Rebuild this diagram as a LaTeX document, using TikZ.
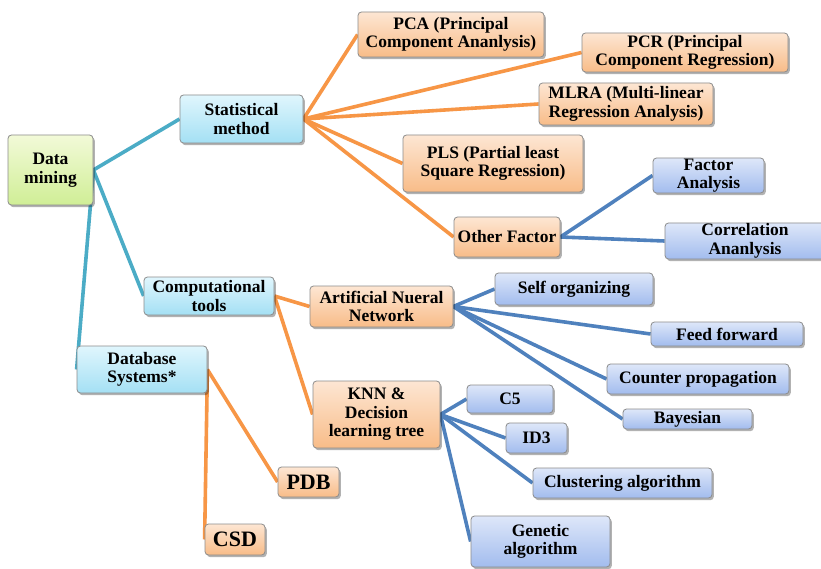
\documentclass[tikz,border=0pt]{standalone}
\usepackage{fontspec}
\setmainfont{Liberation Serif}
\usetikzlibrary{shadows,backgrounds}

% gradient fills of the boxes
\definecolor{orTop}{HTML}{FDE6D3}
\definecolor{orBot}{HTML}{F8BC88}
\definecolor{skyTop}{HTML}{E0F6FD}
\definecolor{skyBot}{HTML}{A4E0F4}
\definecolor{perTop}{HTML}{DEE7F9}
\definecolor{perBot}{HTML}{A2BCEE}
\definecolor{grTop}{HTML}{F2FAD8}
\definecolor{grBot}{HTML}{D0EE96}
\definecolor{frame}{HTML}{8C8C8C}
% connector colours
\definecolor{tealLn}{HTML}{4BACC6}
\definecolor{orLn}{HTML}{F79646}
\definecolor{blLn}{HTML}{4F81BD}

\tikzset{
  box/.style={draw=frame, line width=0.8pt, rounded corners=3.5pt, inner sep=0pt,
    align=center, font=\bfseries\fontsize{17.5}{18.5}\selectfont, text=black,
    drop shadow={shadow xshift=1.8pt, shadow yshift=-2.2pt, fill=black, opacity=0.3}},
  orbox/.style={box, top color=orTop, bottom color=orBot},
  skybox/.style={box, top color=skyTop, bottom color=skyBot},
  perbox/.style={box, top color=perTop, bottom color=perBot},
  grbox/.style={box, top color=grTop, bottom color=grBot},
  bigtext/.style={font=\bfseries\fontsize{22}{24}\selectfont},
  wh/.style 2 args={minimum width=#1pt, minimum height=#2pt},
  tealline/.style={draw=tealLn, line width=3.6pt},
  orline/.style={draw=orLn, line width=3.6pt},
  blline/.style={draw=blLn, line width=3.6pt},
}

\begin{document}
\begin{tikzpicture}[x=1pt, y=-1pt]
\begin{scope}[on background layer]
  \fill[white] (0,0) rectangle (821,569);
\end{scope}
\useasboundingbox (0,0) rectangle (821,569);

% root and first level
\node[grbox, wh={85}{70}]   (dm)   at (50.5,170)  {Data\\mining};
\node[skybox, wh={123}{48}] (stat) at (241.5,119) {Statistical\\method};
\node[skybox, wh={130}{38}] (comp) at (209,296)   {Computational\\tools};
\node[skybox, wh={130}{47}] (db)   at (142,369.5) {Database\\Systems*};

% statistical methods
\node[orbox, wh={186}{45}] (pca)   at (451,34.5)  {PCA (Principal\\Component Ananlysis)};
\node[orbox, wh={206}{39}] (pcr)   at (685,52.5)  {PCR (Principal\\Component Regression)};
\node[orbox, wh={174}{42}] (mlra)  at (626,104)   {MLRA (Multi-linear\\Regression Analysis)};
\node[orbox, wh={180}{57}] (pls)   at (493,163.5) {PLS (Partial least\\Square Regression)};
\node[orbox, wh={106}{40}] (other) at (507,237)   {Other Factor};
\node[perbox, wh={111}{35}] (fa)   at (708.5,175.5) {Factor\\Analysis};
\node[perbox, wh={160}{36}] (corr) at (745,241)   {Correlation\\Ananlysis};

% computational tools
\node[orbox, wh={143}{41}] (ann) at (381.5,306.5) {Artificial Nueral\\Network};
\node[orbox, wh={127}{67}] (knn) at (376.5,414.5) {KNN \&\\Decision\\learning tree};
\node[perbox, wh={158}{32}] (self) at (574,289)   {Self organizing};
\node[perbox, wh={152}{24}] (ff)   at (727,334)   {Feed forward};
\node[perbox, wh={182}{30}] (cp)   at (698,379)   {Counter propagation};
\node[perbox, wh={129}{20}] (bay)  at (687.5,419) {Bayesian};
\node[perbox, wh={86}{28}]  (c5)   at (510,399)   {C5};
\node[perbox, wh={61}{30}]  (id3)  at (536.5,438) {ID3};
\node[perbox, wh={179}{30}] (clus) at (622.5,483) {Clustering algorithm};
\node[perbox, wh={139}{51}] (gen)  at (540.5,541.5) {Genetic\\algorithm};

% databases
\node[orbox, bigtext, wh={61}{30}] (pdb) at (308.5,482) {PDB};
\node[orbox, bigtext, wh={60}{31}] (csd) at (235,539.5) {CSD};

% connectors behind the boxes
\begin{scope}[on background layer]
  \draw[tealline] (dm.east) -- (stat.west);
  \draw[tealline] (dm.east) -- (comp.west);
  \draw[tealline] (dm.east) -- (db.west);

  \foreach \t in {pca,pcr,mlra,pls,other}
    \draw[orline] (stat.east) -- (\t.west);
  \foreach \t in {fa,corr}
    \draw[blline] (other.east) -- (\t.west);

  \draw[orline] (comp.east) -- (ann.west);
  \draw[orline] (comp.east) -- (knn.west);
  \foreach \t in {self,ff,cp,bay}
    \draw[blline] (ann.east) -- (\t.west);
  \foreach \t in {c5,id3,clus,gen}
    \draw[blline] (knn.east) -- (\t.west);

  \draw[orline] (db.east) -- (pdb.west);
  \draw[orline] (db.east) -- (csd.west);
\end{scope}
\end{tikzpicture}
\end{document}
